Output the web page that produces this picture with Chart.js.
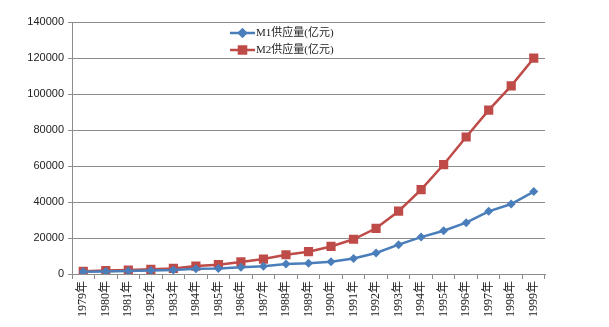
<!DOCTYPE html>
<html>
<head>
<meta charset="utf-8">
<script src="https://cdn.jsdelivr.net/npm/chart.js@4"></script>
<style>
    html, body { margin: 0; padding: 0; background: #fff; }
    #wrap { width: 609px; height: 327px; }
</style>
</head>
<body>
<div id="wrap"><canvas id="moneyChart" width="609" height="327"></canvas></div>
<script>
// 年份
const years = ['1979年', '1980年', '1981年', '1982年', '1983年', '1984年', '1985年',
    '1986年', '1987年', '1988年', '1989年', '1990年', '1991年', '1992年', '1993年',
    '1994年', '1995年', '1996年', '1997年', '1998年', '1999年'];

// M1供应量（亿元）
const m1Values = [1200, 1400, 1700, 1900, 2200, 2900, 3000, 3700, 4300, 5500, 6000,
    6800, 8600, 11700, 16300, 20500, 24000, 28500, 34800, 38900, 45800];

// M2供应量（亿元）
const m2Values = [1500, 1900, 2200, 2600, 3100, 4400, 5200, 6700, 8300, 10700, 12400,
    15300, 19300, 25400, 34900, 46900, 60800, 76100, 91000, 104500, 119900];

// 系列名称
const seriesNames = ['M1供应量(亿元)', 'M2供应量(亿元)'];

// Y轴刻度
const yMin = 0;
const yMax = 140000;
const yStep = 20000;

const COLORS = {
    m1: '#4a7ebb',
    m2: '#be4b48',
    grid: '#8c8c8c',
    text: '#222'
};

// 图例画在绘图区内部
const insideLegend = {
    id: 'insideLegend',
    afterDatasetsDraw(chart) {
        const ctx = chart.ctx;
        const x0 = 230;
        const rows = [33, 50];
        chart.data.datasets.forEach((ds, i) => {
            const y = rows[i];
            ctx.save();
            ctx.strokeStyle = ds.borderColor;
            ctx.lineWidth = 2.5;
            ctx.beginPath();
            ctx.moveTo(x0, y);
            ctx.lineTo(x0 + 25, y);
            ctx.stroke();
            Chart.helpers.drawPoint(ctx, {
                pointStyle: ds.pointStyle,
                radius: ds.pointStyle === 'rect' ? 5 : 3.5,
                borderWidth: 1
            }, x0 + 12.5, y);
            ctx.fillStyle = ds.borderColor;
            ctx.fill();
            ctx.fillStyle = COLORS.text;
            ctx.font = '11px "Liberation Serif", "Noto Sans CJK SC"';
            ctx.textBaseline = 'middle';
            ctx.fillText(ds.label, x0 + 26, y);
            ctx.restore();
        });
    }
};

const ctx = document.getElementById('moneyChart').getContext('2d');
new Chart(ctx, {
    type: 'line',
    data: {
        labels: years,
        datasets: [{
            label: seriesNames[0],
            data: m1Values,
            borderColor: COLORS.m1,
            backgroundColor: COLORS.m1,
            borderWidth: 2.5,
            pointStyle: 'rectRot',
            pointRadius: 4.5,
            pointBorderWidth: 0,
            tension: 0,
            fill: false
        }, {
            label: seriesNames[1],
            data: m2Values,
            borderColor: COLORS.m2,
            backgroundColor: COLORS.m2,
            borderWidth: 2.5,
            pointStyle: 'rect',
            pointRadius: 6.5,
            pointBorderWidth: 0,
            tension: 0,
            fill: false
        }]
    },
    options: {
        responsive: false,
        animation: false,
        devicePixelRatio: 1,
        layout: {
            padding: { left: 0, top: 22, right: 64, bottom: 0 }
        },
        scales: {
            x: {
                offset: true,
                grid: {
                    display: true,
                    offset: true,
                    drawOnChartArea: false,
                    tickLength: 5,
                    color: COLORS.grid
                },
                border: { color: COLORS.grid },
                ticks: {
                    minRotation: 90,
                    maxRotation: 90,
                    autoSkip: false,
                    padding: 2,
                    color: COLORS.text,
                    font: { family: '"Liberation Serif", "Noto Sans CJK SC"', size: 12 }
                },
                afterFit(scale) { scale.height = 53; }
            },
            y: {
                min: yMin,
                max: yMax,
                grid: {
                    color: COLORS.grid,
                    tickLength: 4
                },
                border: { color: COLORS.grid },
                ticks: {
                    stepSize: yStep,
                    padding: 4,
                    color: COLORS.text,
                    font: { family: '"Liberation Sans"', size: 11 },
                    callback: (value) => String(value)
                },
                afterFit(scale) { scale.width = 72; }
            }
        },
        plugins: {
            legend: { display: false },
            tooltip: { enabled: false }
        }
    },
    plugins: [insideLegend]
});
</script>
</body>
</html>
